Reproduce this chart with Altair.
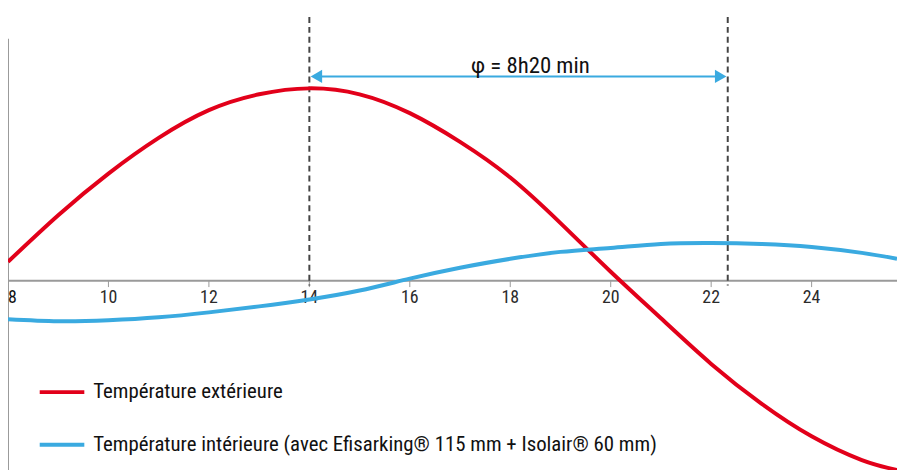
import altair as alt
import pandas as pd

hours = [8, 9, 10, 11, 12, 13, 14, 15, 16, 17, 18, 19, 20, 21, 22, 23, 24, 25, 25.7]
ext_temp = [1.9, 6.6, 10.8, 14.4, 17.2, 18.8, 19.4, 18.8, 16.9, 14.0, 10.4, 5.8, 0.9, -3.8, -8.4, -12.4, -15.7, -18.1, -19.1]
int_temp = [-3.9, -4.1, -4.0, -3.7, -3.2, -2.6, -1.9, -1.0, 0.2, 1.3, 2.2, 2.9, 3.3, 3.7, 3.8, 3.7, 3.4, 2.8, 2.2]
series_names = ["Température extérieure",
                "Température intérieure (avec Efisarking® 115 mm + Isolair® 60 mm)"]
series_colors = ["#E2001A", "#3AAAE0"]
tick_values = [8, 10, 12, 14, 16, 18, 20, 22, 24]
tick_labels = ["8", "10", "12", "14", "16", "18", "20", "22", "24"]
peak_ext = 14
peak_int = 22.33
phase_label = "φ = 8h20 min"

FONT = "Liberation Sans Narrow, Roboto Condensed, Liberation Sans, sans-serif"
XD = [8, 25.7]
YD = [-19.1, 27.3]

rows = []
for h, v in zip(hours, ext_temp):
    rows.append({"h": h, "t": v, "s": series_names[0]})
for h, v in zip(hours, int_temp):
    rows.append({"h": h, "t": v, "s": series_names[1]})
df = pd.DataFrame(rows)

xs = alt.Scale(domain=XD, nice=False, zero=False)
ys = alt.Scale(domain=YD, nice=False, zero=False)

def X(field="h"):
    return alt.X(f"{field}:Q", scale=xs, axis=None)

def Y(field):
    return alt.Y(f"{field}:Q", scale=ys, axis=None)

# axis lines
vaxis = alt.Chart(pd.DataFrame({"h": [XD[0]], "y1": [24.4], "y2": [YD[0]]})).mark_rule(
    color="#9a9a9a", strokeWidth=2).encode(x=X(), y=Y("y1"), y2="y2:Q")
haxis = alt.Chart(pd.DataFrame({"h": [XD[0]], "h2": [XD[1]], "y": [0]})).mark_rule(
    color="#9a9a9a", strokeWidth=2).encode(x=X(), x2="h2:Q", y=Y("y"))

tdf = pd.DataFrame({"h": tick_values, "lab": tick_labels, "y1": [0] * len(tick_values),
                    "y2": [-0.65] * len(tick_values), "ly": [-1.8] * len(tick_values)})
ticks = alt.Chart(tdf[tdf.h > 8]).mark_rule(color="#9a9a9a", strokeWidth=1).encode(
    x=X(), y=Y("y1"), y2="y2:Q")
tlabels = alt.Chart(tdf[tdf.h > 8]).mark_text(font=FONT, fontSize=18, color="#2b2b2b",
                                              baseline="middle", align="center").encode(
    x=X(), y=Y("ly"), text="lab:N")
tlabel0 = alt.Chart(tdf[tdf.h == 8]).mark_text(font=FONT, fontSize=18, color="#111",
                                               baseline="middle", align="left", dx=0).encode(
    x=X(), y=Y("ly"), text="lab:N")

lines = alt.Chart(df).mark_line(strokeWidth=4, interpolate="natural", clip=True).encode(
    x=X(), y=Y("t"),
    color=alt.Color("s:N", scale=alt.Scale(domain=series_names, range=series_colors),
                    sort=series_names,
                    legend=alt.Legend(title=None, orient="none", legendX=30, legendY=361,
                                      symbolType="stroke", symbolSize=2025,
                                      symbolStrokeWidth=4, labelFont=FONT,
                                      labelFontSize=21, labelColor="#111",
                                      labelOffset=7, rowPadding=18,
                                      labelLimit=800)),
)

ddf = pd.DataFrame({"h": [peak_ext, peak_int], "y1": [26.6, 26.6], "y2": [-0.5, -0.5]})
dashed = alt.Chart(ddf).mark_rule(color="#444", strokeWidth=2, strokeDash=[6, 4]).encode(
    x=X(), y=Y("y1"), y2="y2:Q")

arrow_y = 20.6
adf = pd.DataFrame({"h": [peak_ext + 0.15], "h2": [peak_int - 0.15], "y": [arrow_y]})
arrow = alt.Chart(adf).mark_rule(color="#3AAAE0", strokeWidth=2).encode(
    x=X(), x2="h2:Q", y=Y("y"))
hdf = pd.DataFrame({"h": [peak_ext + 0.14, peak_int - 0.14], "y": [arrow_y, arrow_y],
                    "shape": ["triangle-left", "triangle-right"]})
heads = alt.Chart(hdf).mark_point(filled=True, opacity=1, size=180, color="#3AAAE0").encode(
    x=X(), y=Y("y"),
    shape=alt.Shape("shape:N", scale=None, legend=None))

txt = alt.Chart(pd.DataFrame({"h": [18.4], "y": [21.0], "lab": [phase_label]})).mark_text(
    font=FONT, fontSize=23, color="#111", baseline="alphabetic", align="center").encode(
    x=X(), y=Y("y"), text="lab:N")

chart = alt.layer(haxis, vaxis, ticks, tlabels, tlabel0, dashed, lines, arrow, heads, txt).properties(
    width=897, height=464,
    autosize=alt.AutoSizeParams(type="none"),
    padding={"left": 0, "top": 0, "right": 0, "bottom": 0},
).configure_view(stroke=None)

chart.save("out.html", embed_options={"renderer": "svg", "actions": False})
